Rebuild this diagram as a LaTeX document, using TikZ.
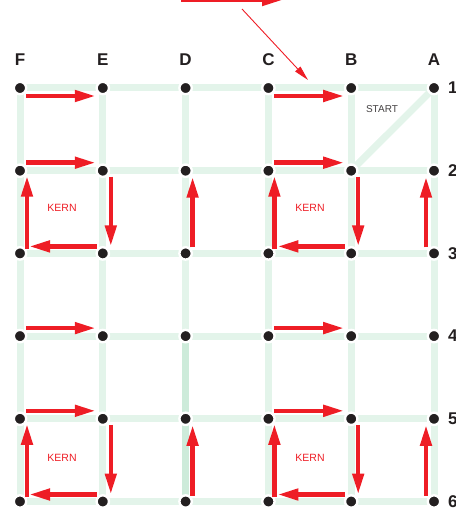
\documentclass[tikz,border=0pt]{standalone}
\usepackage{fontspec}
\setmainfont{Liberation Sans}
\usetikzlibrary{arrows.meta,calc}
\definecolor{gridg}{HTML}{E3F4EA}
\definecolor{gridd}{HTML}{CDEBDA}
\definecolor{redc}{HTML}{EE1D25}
\definecolor{dotc}{HTML}{231F20}
\tikzset{
 gridline/.style={gridg, line width=7pt},
 darkline/.style={gridd, line width=7pt},
 dot/.style={circle, fill=dotc, draw=white, line width=2.4pt, minimum size=12.4pt, inner sep=0pt},
 bigarrow/.style={redc, line width=4.5pt, -{Triangle[length=21pt,width=11pt]}},
 thinarrow/.style={redc, line width=0.9pt, -{Triangle[length=15pt,width=7pt]}},
 collabel/.style={font=\bfseries\fontsize{17}{17}\selectfont, text=dotc, inner sep=0pt},
 rowlabel/.style={collabel, anchor=west},
 kern/.style={font=\fontsize{10.5}{10.5}\selectfont, text=redc, inner sep=0pt},
 startlabel/.style={font=\fontsize{10}{10}\selectfont, text=dotc!85, inner sep=0pt},
}
\begin{document}
\begin{tikzpicture}[x=1pt,y=-1pt]
\useasboundingbox (0,0) rectangle (455,508);
\clip (0,0) rectangle (455,508);
% grid positions
\foreach \c/\x in {F/20,E/102.8,D/185.6,C/268.4,B/351.2,A/434}{
  \foreach \r/\y in {1/88,2/170.7,3/253.4,4/336.1,5/418.8,6/501.5}{
    \coordinate (p\c\r) at (\x,\y);
  }}
% green grid
\foreach \r in {1,...,6}{ \draw[gridline] (pF\r) -- (pA\r); }
\foreach \c in {F,E,D,C,B,A}{ \draw[gridline] (p\c1) -- (p\c6); }
\draw[darkline] (pD4) -- (pD6);
\draw[gridline] (pA1) -- (pB2);
% dots
\foreach \c in {F,E,D,C,B,A}{
  \foreach \r in {1,...,6}{
    \node[dot] (\c\r) at (p\c\r) {};
  }}
% column labels
\foreach \c/\x in {F/20,E/102.8,D/185.6,C/268.4,B/351.2,A/434}{
  \node[collabel] (l\c) at (\x,59.5) {\c};
}
% row labels (cut off at right edge)
\foreach \r/\y in {1/88,2/170.7,3/253.4,4/336.1,5/418.8,6/501.5}{
  \node[rowlabel] (l\r) at (448,\y) {\r};
}
% texts
\node[startlabel] (start) at (382,109) {START};
\node[kern] (k1) at (62,208) {KERN};
\node[kern] (k2) at (310,208) {KERN};
\node[kern] (k3) at (62,458) {KERN};
\node[kern] (k4) at (310,458) {KERN};
% top arrows
\coordinate (t1) at (181,0);
\coordinate (t2) at (283,0);
\draw[bigarrow] (t1) -- (t2);
\coordinate (s1) at (242,9);
\coordinate (s2) at (308,80);
\draw[thinarrow] (s1) -- (s2);
% row 1 arrows
\draw[bigarrow] ($(F1)+(6,8)$) -- ($(E1)+(-7,8)$);
\draw[bigarrow] ($(C1)+(6,8)$) -- ($(B1)+(-7,8)$);
% row 4 arrows
\draw[bigarrow] ($(F4)+(6,-8)$) -- ($(E4)+(-7,-8)$);
\draw[bigarrow] ($(C4)+(6,-8)$) -- ($(B4)+(-7,-8)$);
% kern loops (rows 2-3 and 5-6)
\foreach \a/\b in {2/3,5/6}{
  \draw[bigarrow] ($(F\a)+(6,-8)$) -- ($(E\a)+(-7,-8)$);
  \draw[bigarrow] ($(E\a)+(8,6)$) -- ($(E\b)+(8,-7)$);
  \draw[bigarrow] ($(E\b)+(-6,-7)$) -- ($(F\b)+(9,-7)$);
  \draw[bigarrow] ($(F\b)+(7,-4.7)$) -- ($(F\a)+(7,5)$);
  \draw[bigarrow] ($(D\b)+(7,-6)$) -- ($(D\a)+(7,6)$);
  \draw[bigarrow] ($(C\a)+(6,-8)$) -- ($(B\a)+(-7,-8)$);
  \draw[bigarrow] ($(B\a)+(7,6)$) -- ($(B\b)+(7,-7)$);
  \draw[bigarrow] ($(B\b)+(-6,-7)$) -- ($(C\b)+(9,-7)$);
  \draw[bigarrow] ($(C\b)+(6,-4.7)$) -- ($(C\a)+(6,5)$);
  \draw[bigarrow] ($(A\b)+(-8,-6)$) -- ($(A\a)+(-8,6)$);
}
\end{tikzpicture}
\end{document}
